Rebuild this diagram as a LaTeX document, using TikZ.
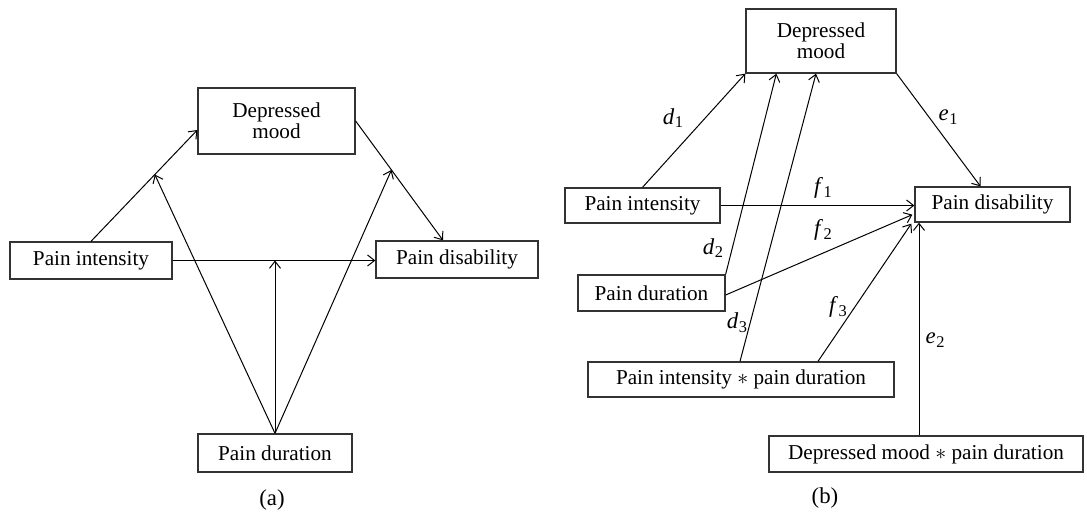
\documentclass[tikz,border=0pt]{standalone}
\usepackage{fontspec}
\setmainfont{Liberation Serif}
\usetikzlibrary{arrows.meta,calc}
\newcommand{\lbl}[2]{\textit{#1}\kern0.3pt\raisebox{-0.35ex}{\fontsize{8.2}{9}\selectfont #2}}
\begin{document}
\begin{tikzpicture}[x=0.5pt,y=-0.5pt,
  box/.style={draw=black!80, line width=0.65pt, inner sep=0pt, align=center, font=\fontsize{10.6}{10.6}\selectfont},
  sz/.style 2 args={minimum width=#1*0.5pt, minimum height=#2*0.5pt},
  conn/.style={line width=0.5pt, -{Straight Barb[length=3.5pt,width=5.5pt]}},
  plain/.style={line width=0.5pt},
  lab/.style={font=\fontsize{11.4}{12}\selectfont, inner sep=0pt}]
\useasboundingbox (0,0) rectangle (1087,513);

% ---------------- panel (a) ----------------
\node[box, sz={157}{66}] (dmA) at (276.5,121) {Depressed\\mood};
\node[box, sz={162}{37}] (piA) at (91,260.5) {Pain intensity};
\node[box, sz={162}{37}] (pdisA) at (457,259.5) {Pain disability};
\node[box, sz={154}{38}] (pdurA) at (275,453) {Pain duration};
\node[lab] (capA) at (272,500) {(a)};

\coordinate (aDM) at ($(dmA.west)+(0,9)$);
\coordinate (aPD) at ($(pdisA.north)+(-14,0)$);
\draw[conn] (piA.north) -- (aDM);
\draw[conn] (piA.east) -- (piA.east -| pdisA.west);
\draw[conn] (dmA.east) -- (aPD);
\coordinate (m1) at ($(piA.north)!0.6!(aDM)$);
\coordinate (m2) at (pdurA.north |- piA.east);
\coordinate (m3) at ($(dmA.east)!0.41!(aPD)$);
\draw[conn] (pdurA.north) -- (m1);
\draw[conn] (pdurA.north) -- (m2);
\draw[conn] (pdurA.north) -- (m3);

% ---------------- panel (b) ----------------
\node[box, sz={150}{64}] (dmB) at (821,41) {Depressed\\mood};
\node[box, sz={155}{35}] (piB) at (642.5,205.5) {Pain intensity};
\node[box, sz={155}{35}] (pdisB) at (992.5,204.5) {Pain disability};
\node[box, sz={147}{36}] (pdurB) at (651.5,293) {Pain duration};
\node[box, sz={306}{35}] (pxd) at (741,379.5) {Pain intensity $\ast$ pain duration};
\node[box, sz={314}{36}] (dxd) at (926,454) {Depressed mood $\ast$ pain duration};
\node[lab] (capB) at (825,498) {(b)};

% d paths
\draw[conn] (piB.north) -- (dmB.south west);
\draw[conn] (pdurB.north east) -- ($(dmB.south west)+(31,0)$);
\coordinate (d3s) at ($(pxd.north)+(-1,0)$);
\draw[conn] (d3s) -- ($(dmB.south)+(-5,0)$);
% e1
\draw[conn] (dmB.south east) -- ($(pdisB.north)+(-12,0)$);
% f paths
\draw[conn] (piB.east) -- (piB.east -| pdisB.west);
\draw[conn] ($(pdurB.east)+(0,2)$) -- ($(pdisB.south west)+(-2,-8)$);
\coordinate (f3s) at ($(pxd.north)+(77,0)$);
\draw[conn] (f3s) -- ($(pdisB.south west)+(-3,1)$);
% e2
\coordinate (e2s) at ($(dxd.north)+(-7,0)$);
\draw[conn] (e2s) -- (e2s |- pdisB.south);

% labels
\node[lab] (ld1) at (673,118) {\lbl{d}{1}};
\node[lab] (ld2) at (713,248) {\lbl{d}{2}};
\node[lab] (ld3) at (737,323) {\lbl{d}{3}};
\node[lab] (le1) at (948,117) {\lbl{e}{1}};
\node[lab] (le2) at (935,340) {\lbl{e}{2}};
\node[lab] (lf1) at (823,188) {\lbl{f}{1}};
\node[lab] (lf2) at (823,230) {\lbl{f}{2}};
\node[lab] (lf3) at (838,307) {\lbl{f}{3}};
\end{tikzpicture}
\end{document}
